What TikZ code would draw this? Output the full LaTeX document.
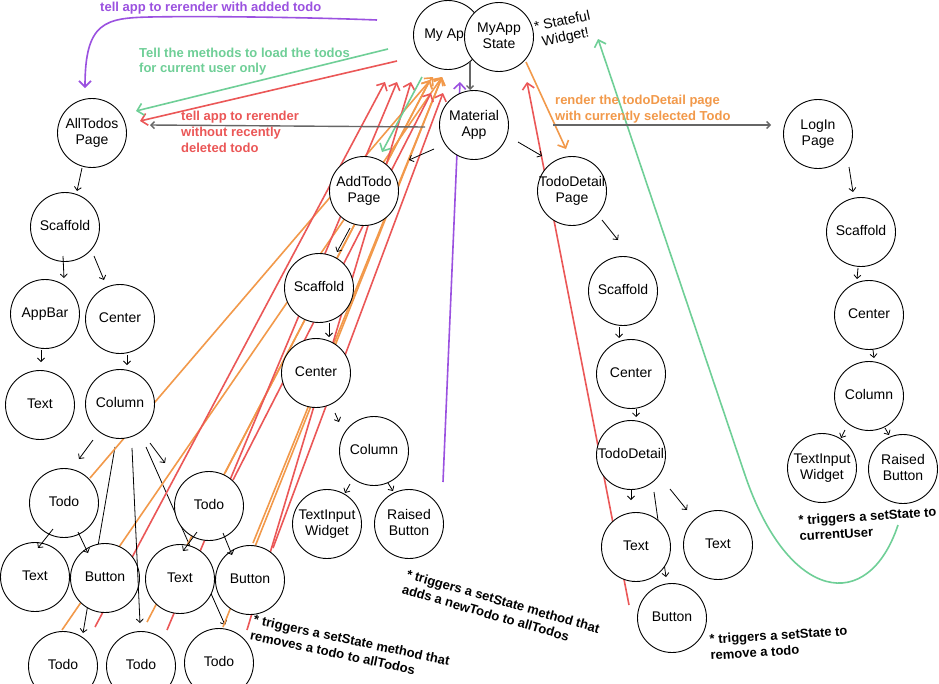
\documentclass[tikz,border=0pt]{standalone}
\usepackage{fontspec}
\setmainfont{Liberation Sans}
\usetikzlibrary{arrows.meta,calc}
\pgfdeclarelayer{bg}
\pgfsetlayers{bg,main}
\definecolor{cpur}{HTML}{9B51E0}
\definecolor{cgreen}{HTML}{6FCF97}
\definecolor{cred}{HTML}{EB5757}
\definecolor{corange}{HTML}{F2994A}
\definecolor{cgray}{HTML}{666666}
\newcommand{\twol}[1]{\makebox[0pt]{\begin{tabular}{@{}c@{}}#1\end{tabular}}}
\begin{document}
\begin{tikzpicture}[x=1pt,y=-1pt,
 nd/.style={circle,draw=black,line width=0.9pt,fill=white,minimum size=69pt,inner sep=0pt,font=\fontsize{14}{16}\selectfont},
 bar/.style={-{Straight Barb[length=3.5pt,width=7pt]},line width=0.8pt},
 gar/.style={bar,draw=cgray,line width=1.4pt},
 col/.style={-{Straight Barb[length=6pt,width=12pt]},line width=1.6pt},
 ann/.style={font=\fontsize{13}{16}\selectfont\bfseries,inner sep=0pt},
]
\useasboundingbox (0,0) rectangle (939,683);

% nodes
\node[nd] (myapp) at (448,35) {\twol{My App}};
\node[nd] (state) at (499,37) {\twol{MyApp\\State}};
\node[nd] (mat) at (474,125) {\twol{Material\\App}};
\node[nd] (alltodos) at (92,133) {\twol{AllTodos\\Page}};
\node[nd] (login) at (818,134) {\twol{LogIn\\Page}};
\node[nd] (addtodo) at (364,191) {\twol{AddTodo\\Page}};
\node[nd] (tdpage) at (572,191) {\twol{TodoDetail\\Page}};
\node[nd] (sc1) at (65,227) {\twol{Scaffold}};
\node[nd] (appbar) at (45,314) {\twol{AppBar}};
\node[nd] (cen1) at (120,319) {\twol{Center}};
\node[nd] (text1) at (40,405) {\twol{Text}};
\node[nd] (col1) at (120,404) {\twol{Column}};
\node[nd] (todo1) at (64,503) {\twol{Todo}};
\node[nd] (todo2) at (209,506) {\twol{Todo}};
\node[nd] (t1) at (35,577) {\twol{Text}};
\node[nd] (b1) at (105,578) {\twol{Button}};
\node[nd] (t2) at (180,579) {\twol{Text}};
\node[nd] (b2) at (250,580) {\twol{Button}};
\node[nd] (todo3) at (63,666) {\twol{Todo}};
\node[nd] (todo4) at (141,666) {\twol{Todo}};
\node[nd] (todo5) at (219,663) {\twol{Todo}};
\node[nd] (sc2) at (319,288) {\twol{Scaffold}};
\node[nd] (cen2) at (316,373) {\twol{Center}};
\node[nd] (col2) at (374,451) {\twol{Column}};
\node[nd] (ti2) at (327,524) {\twol{TextInput\\Widget}};
\node[nd] (rb2) at (409,524) {\twol{Raised\\Button}};
\node[nd] (sc3) at (623,291) {\twol{Scaffold}};
\node[nd] (cen3) at (631,374) {\twol{Center}};
\node[nd] (td) at (631,455) {\twol{TodoDetail}};
\node[nd] (t3) at (636,547) {\twol{Text}};
\node[nd] (t4) at (718,545) {\twol{Text}};
\node[nd] (bt3) at (672,618) {\twol{Button}};
\node[nd] (sc4) at (861,232) {\twol{Scaffold}};
\node[nd] (cen4) at (869,315) {\twol{Center}};
\node[nd] (col4) at (869,396) {\twol{Column}};
\node[nd] (ti4) at (822,468) {\twol{TextInput\\Widget}};
\node[nd] (rb4) at (903,469) {\twol{Raised\\Button}};

% background lines
\begin{pgfonlayer}{bg}
\fill[white] (0,0) rectangle (939,683);
\draw[bar] ($(col1)+(-5,43)$) -- ($(todo3)+(20,-33)$);
\draw[bar] ($(col1)+(26,43)$) -- ($(todo5)+(6,-38)$);
\draw[bar] ($(td)+(23,37)$) -- ($(bt3)+(-6,-41)$);
% orange bundle
\draw[col,draw=corange] ($(todo3)+(-1,-36)$) -- ($(myapp)+(-6,42)$);
\draw[col,draw=corange] ($(todo4)+(6,-44)$) -- ($(myapp)+(-18,45)$);
\draw[col,draw=corange] ($(todo5)+(4,-36)$) -- ($(myapp)+(-6,42)$);
\draw[col,draw=corange] ($(todo1)+(26,-25)$) -- ($(myapp)+(-15,42)$);
\draw[col,draw=corange] ($(todo2)+(16,-33)$) -- ($(myapp)+(-18,45)$);
\draw[col,draw=corange] ($(b2)+(3,-37)$) -- ($(myapp)+(-6,42)$);
% red bundle
\draw[col,draw=cred] ($(todo3)+(32,-39)$) -- ($(myapp)+(-63,47)$);
\draw[col,draw=cred] ($(todo4)+(26,-36)$) -- ($(myapp)+(-51,47)$);
\draw[col,draw=cred] ($(todo5)+(28,-33)$) -- ($(myapp)+(-37,47)$);
\draw[col,draw=cred] ($(todo2)+(24,-26)$) -- ($(myapp)+(-17,58)$);
\draw[col,draw=cred] ($(b2)+(23,-32)$) -- ($(myapp)+(-5,58)$);
% other colored
\draw[col,draw=cpur] ($(rb2)+(34,-42)$) -- ($(mat)+(-14,-43)$);
\draw[col,draw=cred] ($(bt3)+(-43,-13)$) -- ($(state)+(28,45)$);
\draw[col,draw=corange] ($(state)+(27,25)$) -- ($(tdpage)+(-6,-42)$);
\draw[col,draw=cred] ($(myapp)+(-51,26)$) -- ($(alltodos)+(48,-12)$);
\draw[col,draw=cgreen] ($(myapp)+(-60,14)$) -- ($(alltodos)+(44,-22)$);
\draw[col,draw=cgreen] ($(myapp)+(-26,42)$) -- ($(addtodo)+(18,-39)$);
\draw[col,draw=cpur] ($(myapp)+(-71,-15)$) .. controls (300,17) and (195,16) .. (150,17)
   .. controls (105,18) and (85,22) .. ($(alltodos)+(-7,-45)$);
\draw[col,draw=cgreen] ($(rb4)+(-5,56)$) .. controls (868,615) and (788,602) .. (745,475) -- ($(state)+(99,2)$);
\end{pgfonlayer}

% black arrows
\draw[bar] ($(alltodos)+(-10,35)$) -- ($(sc1)+(12,-36)$);
\draw[bar] ($(sc1)+(-2,29)$) -- ($(appbar)+(19,-36)$);
\draw[bar] ($(sc1)+(29,29)$) -- ($(cen1)+(-16,-39)$);
\draw[bar] ($(appbar)+(-4,36)$) -- ($(text1)+(1,-43)$);
\draw[bar] ($(cen1)+(7,36)$) -- ($(col1)+(7,-39)$);
\draw[bar] ($(col1)+(-27,36)$) -- ($(todo1)+(15,-44)$);
\draw[bar] ($(col1)+(12,44)$) -- ($(todo4)+(-1,-43)$);
\draw[bar] ($(col1)+(30,39)$) -- ($(todo2)+(-44,-43)$);
\draw[bar] ($(todo1)+(-11,26)$) -- ($(t1)+(3,-29)$);
\draw[bar] ($(todo1)+(14,29)$) -- ($(b1)+(-17,-25)$);
\draw[bar] ($(todo2)+(-12,26)$) -- ($(t2)+(3,-28)$);
\draw[bar] ($(todo2)+(14,27)$) -- ($(b2)+(-18,-25)$);
\draw[gar] ($(myapp)+(22,27)$) -- ($(mat)+(-4,-35)$);
\draw[gar] ($(mat)+(-49,2)$) -- ($(alltodos)+(58,-8)$);
\draw[gar] ($(mat)+(79,0)$) -- ($(login)+(-47,-9)$);
\draw[bar] ($(mat)+(-40,24)$) -- ($(addtodo)+(45,-31)$);
\draw[bar] ($(mat)+(44,17)$) -- ($(tdpage)+(-30,-35)$);
\draw[bar] ($(addtodo)+(-14,37)$) -- ($(sc2)+(18,-36)$);
\draw[bar] ($(sc2)+(10,35)$) -- ($(cen2)+(13,-36)$);
\draw[bar] ($(cen2)+(19,40)$) -- ($(col2)+(-35,-29)$);
\draw[bar] ($(col2)+(-24,33)$) -- ($(ti2)+(18,-31)$);
\draw[bar] ($(col2)+(14,32)$) -- ($(rb2)+(-16,-33)$);
\draw[bar] ($(tdpage)+(30,29)$) -- ($(sc3)+(-5,-51)$);
\draw[bar] ($(sc3)+(-4,36)$) -- ($(cen3)+(-12,-36)$);
\draw[bar] ($(cen3)+(5,35)$) -- ($(td)+(5,-38)$);
\draw[bar] ($(td)+(0,35)$) -- ($(t3)+(-5,-47)$);
\draw[bar] ($(td)+(39,34)$) -- ($(t4)+(-31,-35)$);
\draw[bar] ($(login)+(31,33)$) -- ($(sc4)+(-8,-40)$);
\draw[bar] ($(sc4)+(-3,36)$) -- ($(cen4)+(-12,-36)$);
\draw[bar] ($(cen4)+(4,35)$) -- ($(col4)+(5,-38)$);
\draw[bar] ($(col4)+(-24,34)$) -- ($(ti4)+(19,-30)$);
\draw[bar] ($(col4)+(16,32)$) -- ($(rb4)+(-14,-34)$);

% annotations
\node[ann,text=cpur,anchor=base west] (a1) at (100,11) {tell app to rerender with added todo};
\node[ann,text=cgreen,anchor=base west] (g1) at (139,57) {Tell the methods to load the todos};
\node[ann,text=cgreen,anchor=base west] (g2) at (139,72) {for current user only};
\node[ann,text=cred,anchor=base west] (r1) at (181,120) {tell app to rerender};
\node[ann,text=cred,anchor=base west] (r2) at (181,136) {without recently};
\node[ann,text=cred,anchor=base west] (r3) at (181,152) {deleted todo};
\node[ann,text=corange,anchor=base west] (o1) at (555,104) {render the todoDetail page};
\node[ann,text=corange,anchor=base west] (o2) at (555,120) {with currently selected Todo};
\node[font=\fontsize{14}{16}\selectfont,inner sep=0pt,rotate=12,align=center] (sw) at (564,30) {* Stateful\\Widget!};
\node[ann,rotate=-12,align=left] (n1) at (350,648) {* triggers a setState method that\\removes a todo to allTodos};
\node[ann,rotate=-16,align=left] (n2) at (501,609) {* triggers a setState method that\\adds a newTodo to allTodos};
\node[ann,rotate=3.5,align=left] (n3) at (779,643) {* triggers a setState to\\remove a todo};
\node[ann,rotate=3.5,align=left] (n4) at (868,524) {* triggers a setState to\\currentUser};
\end{tikzpicture}
\end{document}
